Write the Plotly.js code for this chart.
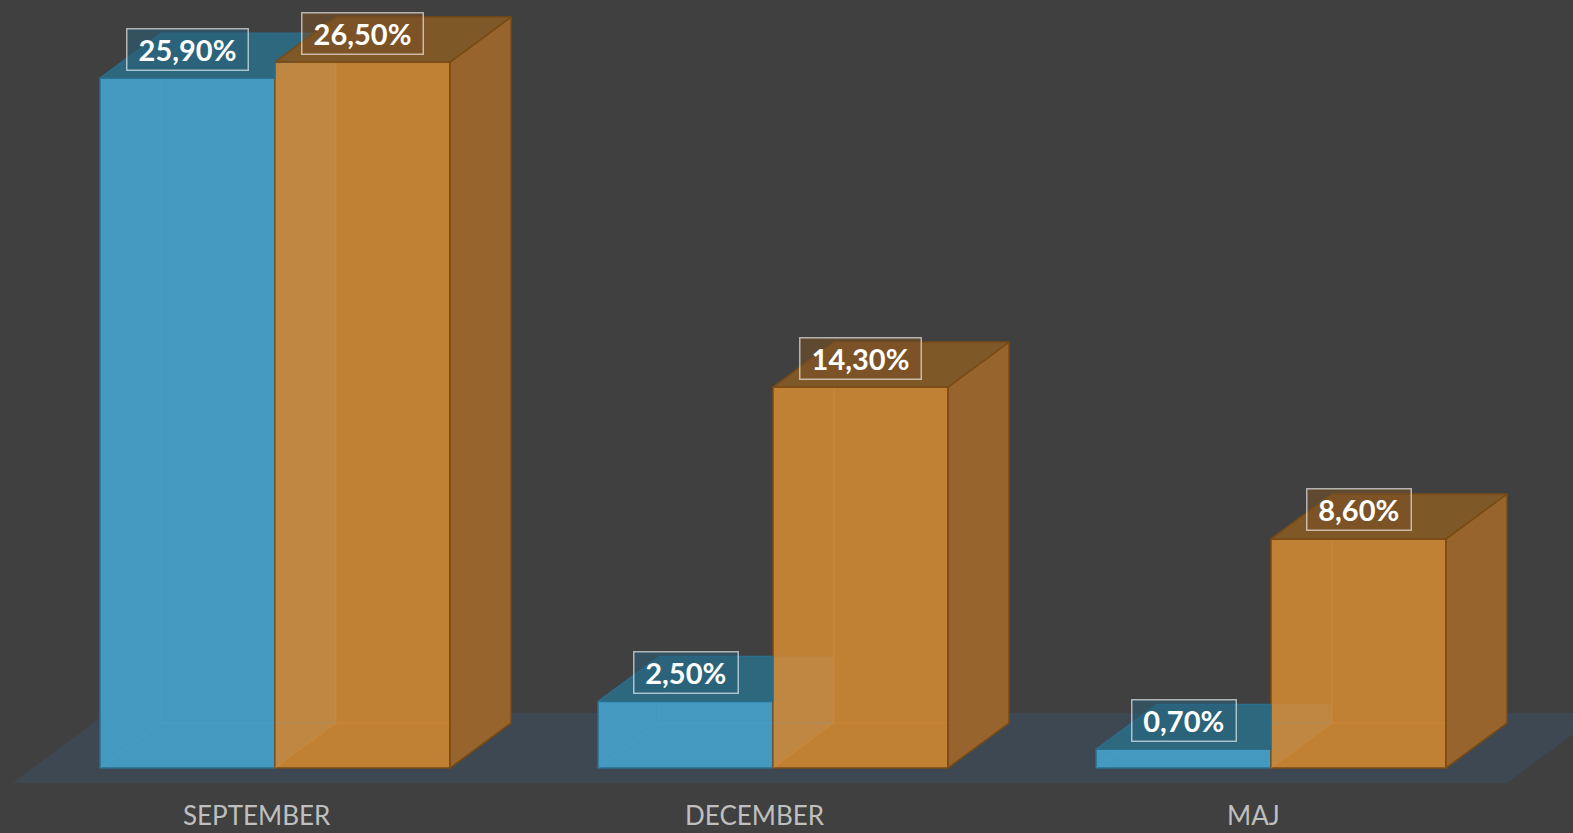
<!DOCTYPE html>
<html>
<head>
<meta charset="utf-8">
<script src="https://cdn.plot.ly/plotly-3.0.1.min.js"></script>
<style>html,body{margin:0;padding:0;background:#404040;}#chart{width:1573px;height:833px;}</style>
</head>
<body>
<div id="chart"></div>
<script>
// ---- data ----
const categories = ['SEPTEMBER', 'DECEMBER', 'MAJ'];
const seriesBlue = [25.9, 2.5, 0.7];
const seriesOrange = [26.5, 14.3, 8.6];

// ---- layout / projection constants (styles) ----
const W = 1573, H = 833;
const UX = 498;       // px per category
const PY = 26.64;     // px per percent
const X0PX = 275;     // px of first category centre (front faces)
const BASEPX = 768;   // px of value 0 on front faces
const BW = 175 / UX;  // bar width in category units
const DX = 61 / UX;   // depth offset x
const DY = 45 / PY;   // depth offset y

const xs = categories.map((c, i) => i);
const fmt = v => v.toFixed(2).replace('.', ',') + '%';

const blueFront = '#4499c0', blueTop = '#2e687e', blueEdge = '#2a6f8f';
const orFront = '#c18135', orTop = '#7f5828', orSide = '#96642c', orEdge = '#7a4a14';

const traces = [];
traces.push({
  type: 'bar', x: xs, y: seriesBlue, offset: -BW, width: BW,
  marker: {color: blueFront, line: {color: blueEdge, width: 1.5}},
  hoverinfo: 'skip', showlegend: false
});
traces.push({
  type: 'bar', x: xs, y: seriesOrange, offset: 0, width: BW,
  marker: {color: orFront, line: {color: orEdge, width: 1.5}},
  hoverinfo: 'skip', showlegend: false
});

function poly(pts, fill, line, lw, opacity) {
  const x = pts.map(p => p[0]); const y = pts.map(p => p[1]);
  x.push(pts[0][0]); y.push(pts[0][1]);
  traces.push({type: 'scatter', mode: 'lines', x: x, y: y, fill: 'toself',
    fillcolor: fill, line: {color: line, width: lw}, opacity: opacity === undefined ? 1 : opacity,
    hoverinfo: 'skip', showlegend: false});
}
function lineTrace(pts, color, lw) {
  traces.push({type: 'scatter', mode: 'lines', x: pts.map(p => p[0]), y: pts.map(p => p[1]),
    line: {color: color, width: lw}, hoverinfo: 'skip', showlegend: false});
}

xs.forEach(i => {
  const b = seriesBlue[i], o = seriesOrange[i];
  const L = i - BW, R = i, R2 = i + BW;
  // blue side/top seen through the translucent orange front
  const hb = Math.min(b + DY, o);
  poly([[R, 0], [R + DX, DY], [R + DX, hb], [R, hb]], 'rgba(185,168,140,0.16)', 'rgba(0,0,0,0)', 0);
  // hidden edges seen through translucent faces
  lineTrace([[L, 0], [L + DX, DY], [L + DX, b + DY]], 'rgba(80,175,215,0.3)', 1);
  lineTrace([[L + DX, DY], [R + DX, DY]], 'rgba(80,175,215,0.2)', 1);
  lineTrace([[R, 0], [R + DX, DY], [R + DX, o + DY]], 'rgba(225,145,50,0.4)', 1);
  lineTrace([[R + DX, DY], [R2 + DX, DY]], 'rgba(225,145,50,0.3)', 1);
  // blue top face, clipped by the orange front
  let bt;
  if (b + DY <= o) {
    bt = [[L, b], [R, b], [R, b + DY], [L + DX, b + DY]];
  } else if (b < o) {
    bt = [[L, b], [R, b], [R, o], [R + DX * (o - b) / DY, o], [R + DX, b + DY], [L + DX, b + DY]];
  } else {
    bt = [[L, b], [R, b], [R + DX, b + DY], [L + DX, b + DY]];
  }
  poly(bt, blueTop, blueEdge, 1.2);
  // orange side and top
  poly([[R2, 0], [R2 + DX, DY], [R2 + DX, o + DY], [R2, o]], orSide, orEdge, 1.5);
  poly([[R, o], [R2, o], [R2 + DX, o + DY], [R + DX, o + DY]], orTop, orEdge, 1.5);
});

// ---- annotations ----
const annotations = [];
function valueLabel(x, v, bg) {
  const t = fmt(v);
  annotations.push({x: x, y: v, xref: 'x', yref: 'y', text: t, showarrow: false,
    yshift: 29, xanchor: 'center', yanchor: 'middle',
    font: {family: 'Lato, "Open Sans", sans-serif', size: 29, color: '#ffffff', weight: 'bold'},
    bgcolor: bg, bordercolor: 'rgba(255,255,255,0.6)', borderwidth: 1.5, borderpad: 2,
    width: t.length * 17.5 + 11, height: 36});
}
xs.forEach(i => {
  valueLabel(i - BW / 2, seriesBlue[i], 'rgba(40,95,118,0.55)');
  valueLabel(i + BW / 2, seriesOrange[i], 'rgba(120,80,36,0.55)');
  annotations.push({x: i, y: (BASEPX - 815) / PY, xref: 'x', yref: 'y', xshift: -18,
    text: categories[i], showarrow: false, xanchor: 'center', yanchor: 'middle',
    font: {family: 'Lato, "Open Sans", sans-serif', size: 26, color: '#bfbfbf'}});
});

// floor (decoration)
const fx0 = (12 - X0PX) / UX, fx1 = (1507 - X0PX) / UX, fdx = 95 / UX;
const fyF = (BASEPX - 783) / PY, fyB = (BASEPX - 713) / PY;
const shapes = [{
  type: 'path', xref: 'x', yref: 'y', layer: 'below',
  path: `M ${fx0} ${fyF} L ${fx1} ${fyF} L ${fx1 + fdx} ${fyB} L ${fx0 + fdx} ${fyB} Z`,
  fillcolor: '#3d4853', line: {width: 0}
}];

const layout = {
  width: W, height: H,
  margin: {l: 0, r: 0, t: 0, b: 0},
  paper_bgcolor: '#404040', plot_bgcolor: '#404040',
  barmode: 'overlay',
  xaxis: {range: [-X0PX / UX, (W - X0PX) / UX], visible: false, fixedrange: true},
  yaxis: {range: [-(H - BASEPX) / PY, BASEPX / PY], visible: false, fixedrange: true},
  shapes: shapes,
  annotations: annotations,
  showlegend: false
};

Plotly.newPlot('chart', traces, layout, {displayModeBar: false, staticPlot: true});
</script>
</body>
</html>
